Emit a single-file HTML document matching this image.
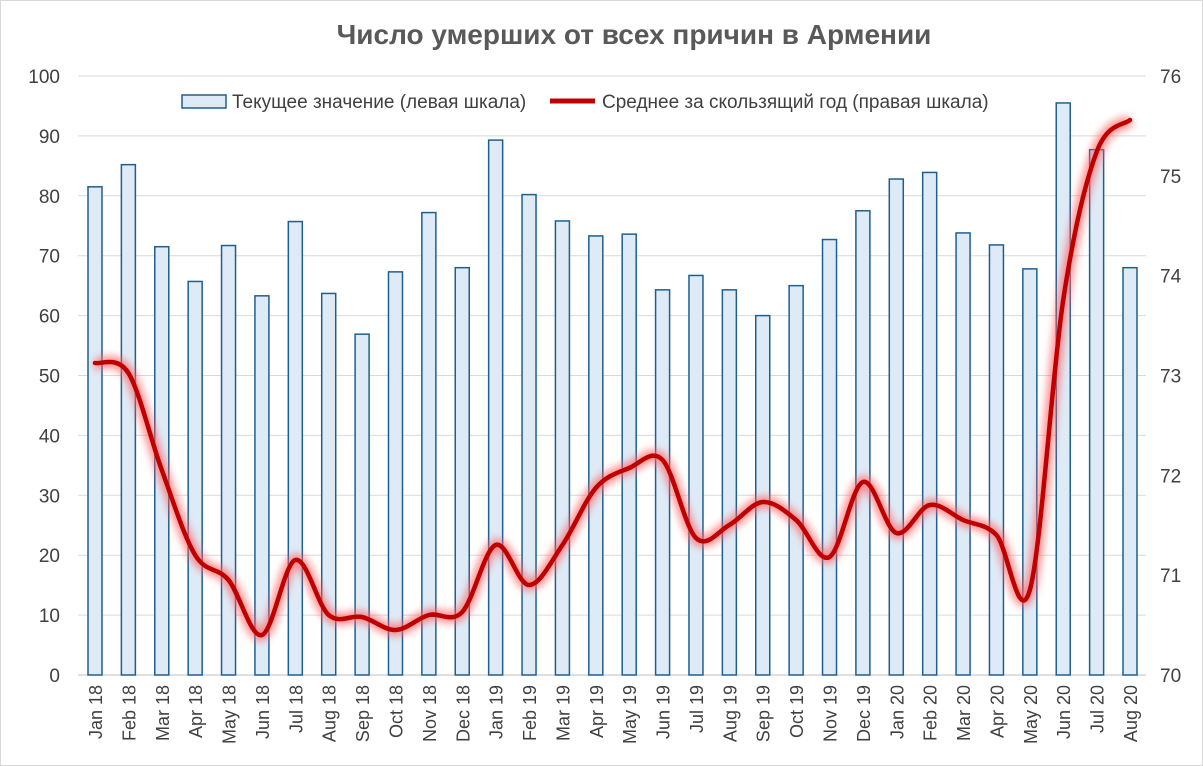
<!DOCTYPE html>
<html><head><meta charset="utf-8"><style>
body{margin:0;background:#fff;}
svg{display:block;font-family:"Liberation Sans",sans-serif;}
</style></head><body>
<svg id="s" width="1203" height="766" xmlns="http://www.w3.org/2000/svg">
<defs><filter id="g" x="-10%" y="-10%" width="120%" height="120%"><feGaussianBlur stdDeviation="4"/></filter></defs>
<rect x="0.5" y="0.5" width="1202" height="765" fill="#fff" stroke="#d9d9d9"/>
<text x="634" y="44" text-anchor="middle" font-size="28" font-weight="bold" fill="#595959">Число умерших от всех причин в Армении</text>
<g id="grid"></g><g id="bars"></g><g id="lbl"></g>
<g font-size="19" fill="#404040">
<rect x="182" y="95" width="44" height="13" fill="#deebf7" stroke="#1f5f8f" stroke-width="1.5"/>
<text x="232" y="108">Текущее значение (левая шкала)</text>
<line x1="550" y1="101" x2="595" y2="101" stroke="#c00000" stroke-width="5"/>
<text x="602" y="108">Среднее за скользящий год (правая шкала)</text>
</g>
<g id="line"></g>
</svg>
<script>
const NS="http://www.w3.org/2000/svg";
function el(p,t,a,txt){const e=document.createElementNS(NS,t);for(const k in a)e.setAttribute(k,a[k]);if(txt!==undefined)e.textContent=txt;document.getElementById(p).appendChild(e);return e;}
const y0=675,y100=76,x0=78,x1=1146;
for(let v=0;v<=100;v+=10){const y=y0-(y0-y100)*v/100;
el('grid','line',{x1:x0,x2:x1,y1:y,y2:y,stroke:'#d9d9d9'});
el('grid','text',{x:60,y:y+7,'text-anchor':'end','font-size':19,fill:'#404040'},v);}
for(let v=70;v<=76;v++){const y=y0-(v-70)*(y0-y100)/6;el('grid','text',{x:1160,y:y+7,'font-size':19,fill:'#404040'},v);}
const vals=[81.5,85.2,71.5,65.7,71.7,63.3,75.7,63.7,56.9,67.3,77.2,68,89.3,80.2,75.8,73.3,73.6,64.3,66.7,64.3,60,65,72.7,77.5,82.8,83.9,73.8,71.8,67.8,95.5,87.7,68];
const mon=['Jan','Feb','Mar','Apr','May','Jun','Jul','Aug','Sep','Oct','Nov','Dec'];
const dx=(1130-95)/31;
const ly=[363,373,470,555,580,635,560,615,617,630,615,612,545,585,545,488,468,460,538,525,502,520,557,482,533,505,520,535,590,300,152,120];
const pts=[];
vals.forEach((v,i)=>{const cx=95+i*dx,h=(y0-y100)*v/100;
el('bars','rect',{x:cx-7,y:y0-h,width:14,height:h,fill:'#deebf7',stroke:'#1f5f8f','stroke-width':1.5});
const lab=mon[i%12]+' '+(18+Math.floor(i/12));
el('lbl','text',{transform:`translate(${cx+7},${y0+10}) rotate(-90)`,'text-anchor':'end','font-size':18,fill:'#404040'},lab);
pts.push([cx,ly[i]]);});
el('grid','line',{x1:x0,x2:x1,y1:y0,y2:y0,stroke:'#bfbfbf'});
let d='M'+pts[0];
for(let i=0;i<pts.length-1;i++){const p0=pts[Math.max(0,i-1)],p1=pts[i],p2=pts[i+1],p3=pts[Math.min(pts.length-1,i+2)];
d+=` C${p1[0]+(p2[0]-p0[0])/6},${p1[1]+(p2[1]-p0[1])/6} ${p2[0]-(p3[0]-p1[0])/6},${p2[1]-(p3[1]-p1[1])/6} ${p2[0]},${p2[1]}`;}
el('line','path',{d,fill:'none',stroke:'#ff6060','stroke-width':12,opacity:0.7,filter:'url(#g)'});
el('line','path',{d,fill:'none',stroke:'#c00000','stroke-width':4.5,'stroke-linecap':'round'});
</script>
</body></html>
